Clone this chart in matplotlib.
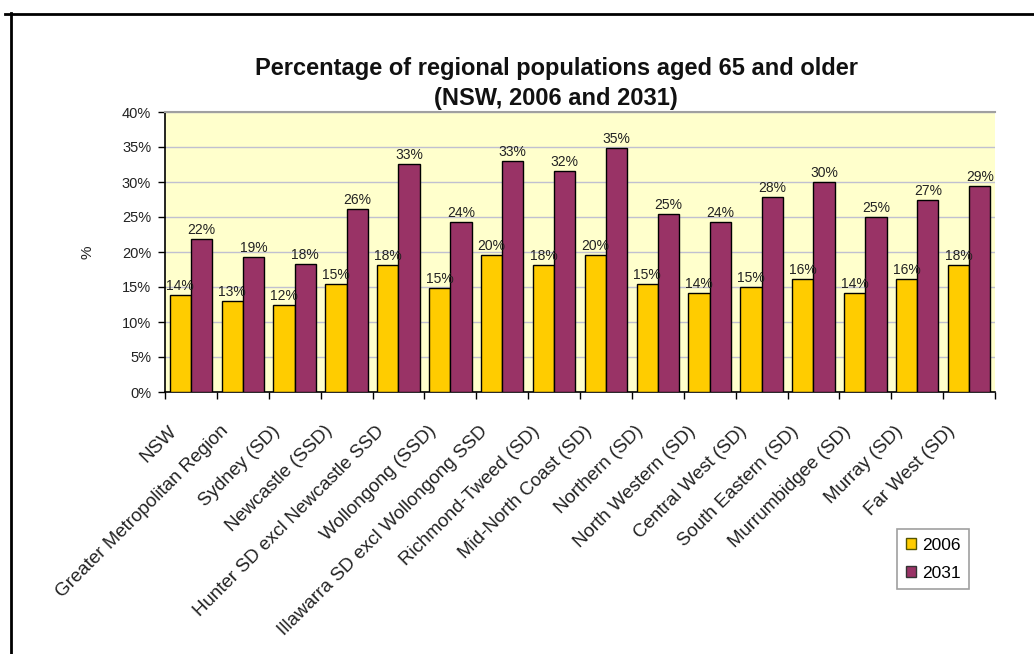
import matplotlib
matplotlib.use("Agg")
import matplotlib.pyplot as plt
import matplotlib.transforms as mtransforms
import numpy as np
from matplotlib.lines import Line2D
from matplotlib.patches import Patch

plt.rcParams['font.family'] = ['Liberation Sans', 'DejaVu Sans']

regions = [
    "NSW", "Greater Metropolitan Region", "Sydney (SD)", "Newcastle (SSD)",
    "Hunter SD excl Newcastle SSD", "Wollongong (SSD)",
    "Illawarra SD excl Wollongong SSD", "Richmond-Tweed (SD)",
    "Mid-North Coast (SD)", "Northern (SD)", "North Western (SD)",
    "Central West (SD)", "South Eastern (SD)", "Murrumbidgee (SD)",
    "Murray (SD)", "Far West (SD)",
]
pct_2006 = [13.9, 13.0, 12.4, 15.4, 18.1, 14.8, 19.6, 18.1,
            19.6, 15.4, 14.2, 15.0, 16.2, 14.2, 16.2, 18.1]
pct_2031 = [21.9, 19.3, 18.3, 26.2, 32.6, 24.3, 33.0, 31.6,
            34.9, 25.4, 24.3, 27.8, 30.0, 25.0, 27.4, 29.4]
series_names = ["2006", "2031"]
yticks = [0, 5, 10, 15, 20, 25, 30, 35, 40]

col_2006 = "#FFCC00"
col_2031 = "#993366"

fig = plt.figure(figsize=(10.34, 6.54), dpi=100)
ax = fig.add_axes([165 / 1034, 1 - 392 / 654, (995 - 165) / 1034, (392 - 112) / 654])
ax.set_facecolor("#FFFFCC")

x = np.arange(len(regions))
w = 0.41
b1 = ax.bar(x - w / 2, pct_2006, w, color=col_2006, edgecolor="black", linewidth=1.0, zorder=3)
b2 = ax.bar(x + w / 2, pct_2031, w, color=col_2031, edgecolor="black", linewidth=1.0, zorder=3)

for bars, vals in ((b1, pct_2006), (b2, pct_2031)):
    for rect, v in zip(bars, vals):
        ax.text(rect.get_x() + rect.get_width() / 2, v + 0.3, f"{round(v):d}%",
                ha="center", va="bottom", fontsize=10, color="#222222", zorder=4)

ax.set_xlim(-0.5, len(regions) - 0.5)
ax.set_ylim(0, 40)
ax.set_yticks(yticks)
ax.set_yticklabels([f"{t}%" for t in yticks], fontsize=10.5, color="#222222")
ax.yaxis.grid(True, color="#C0C0D0", linewidth=1.0, zorder=0)
ax.set_axisbelow(True)

# category boundary ticks on the x axis, labels centred under each group
ax.set_xticks(np.arange(-0.5, len(regions), 1.0))
ax.set_xticklabels([])
ax.tick_params(axis="x", which="major", length=5, width=1, direction="out")
ax.set_xticks(x, minor=True)
ax.set_xticklabels(regions, minor=True, rotation=45, ha="right",
                   rotation_mode="anchor", fontsize=13.5, color="#222222")
ax.tick_params(axis="x", which="minor", length=0, pad=22)
shift = mtransforms.ScaledTranslation(-23 / 100, 0, fig.dpi_scale_trans)
for lbl in ax.get_xticklabels(minor=True):
    lbl.set_transform(lbl.get_transform() + shift)
ax.tick_params(axis="y", length=5, width=1, direction="out", pad=5)

ax.spines["right"].set_visible(False)
ax.spines["top"].set_color("#A0A0A0")
ax.spines["top"].set_linewidth(1.5)
ax.spines["left"].set_linewidth(1.2)
ax.spines["bottom"].set_linewidth(1.2)

ax.set_ylabel("%", fontsize=11, labelpad=20, color="#222222")

fig.text(0.538, 1 - 68 / 654, "Percentage of regional populations aged 65 and older",
         ha="center", va="center", fontsize=17, fontweight="bold", color="#111111")
fig.text(0.538, 1 - 98 / 654, "(NSW, 2006 and 2031)",
         ha="center", va="center", fontsize=17, fontweight="bold", color="#111111")

handles = [Patch(facecolor=col_2006, edgecolor="#555500", label=series_names[0]),
           Patch(facecolor=col_2031, edgecolor="#333333", label=series_names[1])]
leg = fig.legend(handles=handles, loc="upper left",
                 bbox_to_anchor=(897 / 1034, 1 - 529 / 654),
                 fontsize=12.5, frameon=True, fancybox=False,
                 handlelength=0.6, handleheight=0.6, handletextpad=0.35,
                 borderpad=0.5, labelspacing=0.75, borderaxespad=0)
leg.get_frame().set_edgecolor("#888888")
leg.get_frame().set_linewidth(1.2)

# outer frame (left and top edges)
fig.add_artist(Line2D([10.5 / 1034, 10.5 / 1034], [0, 1 - 13 / 654],
                      transform=fig.transFigure, color="black", linewidth=2))
fig.add_artist(Line2D([5 / 1034, 1.0], [1 - 13.5 / 654, 1 - 13.5 / 654],
                      transform=fig.transFigure, color="black", linewidth=2))

fig.savefig("out.png", dpi=100, facecolor="white")
